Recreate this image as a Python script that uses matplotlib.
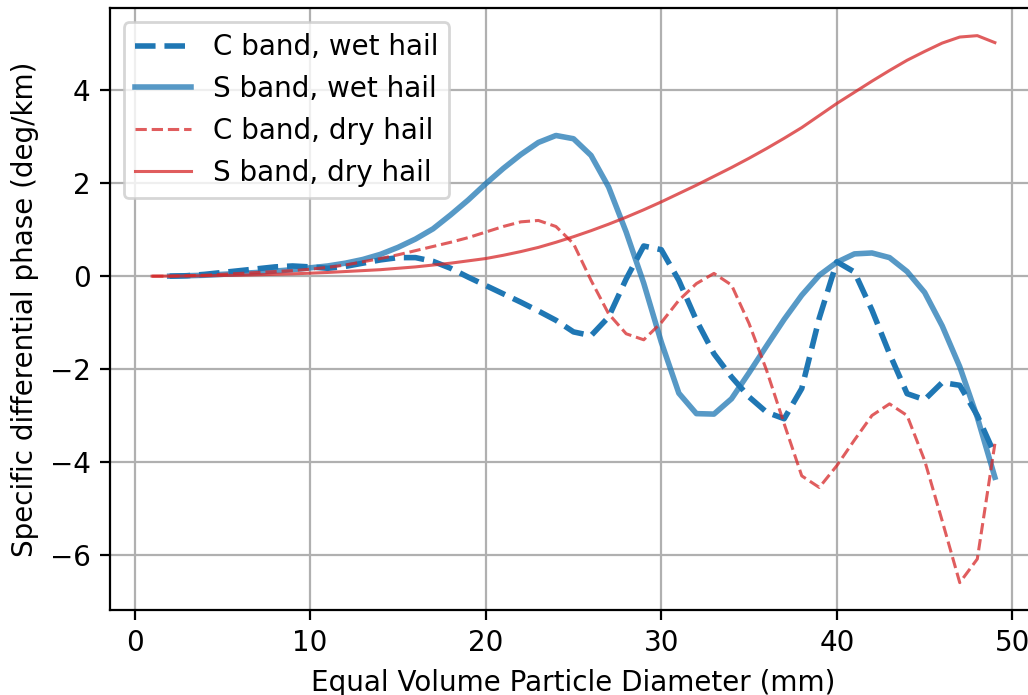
import numpy as np
import matplotlib
matplotlib.use("Agg")
import matplotlib.pyplot as plt

# Equal volume particle diameters (mm)
diam_dry = list(range(1, 50))
diam_wet = list(range(2, 50))

# Specific differential phase (deg/km)
kdp_c_wet = [0.0, 0.01, 0.04, 0.08, 0.12, 0.16, 0.2, 0.22, 0.2, 0.17, 0.21, 0.28, 0.35,
             0.4, 0.4, 0.32, 0.17, -0.02, -0.2, -0.38, -0.56, -0.75, -0.95, -1.2, -1.28,
             -0.88, -0.06, 0.65, 0.57, -0.09, -0.95, -1.67, -2.17, -2.6, -2.93, -3.07,
             -2.42, -0.9, 0.31, 0.09, -0.73, -1.67, -2.53, -2.66, -2.29, -2.35, -3.0, -3.84]
kdp_s_wet = [0.0, 0.01, 0.02, 0.04, 0.06, 0.08, 0.11, 0.14, 0.18, 0.22, 0.28, 0.36, 0.47,
             0.62, 0.8, 1.02, 1.32, 1.64, 1.99, 2.32, 2.62, 2.88, 3.03, 2.96, 2.6, 1.92,
             0.95, -0.15, -1.42, -2.52, -2.96, -2.97, -2.64, -2.08, -1.5, -0.93, -0.41,
             0.02, 0.3, 0.48, 0.5, 0.4, 0.1, -0.35, -1.07, -1.95, -3.04, -4.33]
kdp_c_dry = [0.0, 0.0, 0.01, 0.02, 0.04, 0.06, 0.08, 0.1, 0.12, 0.15, 0.19, 0.24, 0.31,
             0.38, 0.46, 0.55, 0.64, 0.73, 0.83, 0.95, 1.07, 1.17, 1.2, 1.07, 0.7, -0.09,
             -0.81, -1.24, -1.37, -1.0, -0.52, -0.16, 0.06, -0.19, -1.02, -2.03, -3.18,
             -4.3, -4.55, -4.08, -3.53, -3.0, -2.75, -3.0, -3.97, -5.27, -6.6, -6.09, -3.61]
kdp_s_dry = [0.0, 0.002, 0.005, 0.01, 0.015, 0.02, 0.03, 0.04, 0.05, 0.065, 0.08, 0.1,
             0.12, 0.14, 0.17, 0.2, 0.24, 0.28, 0.33, 0.38, 0.45, 0.53, 0.62, 0.73, 0.85,
             0.98, 1.12, 1.27, 1.43, 1.6, 1.78, 1.96, 2.15, 2.34, 2.54, 2.75, 2.97, 3.2,
             3.46, 3.72, 3.96, 4.2, 4.43, 4.65, 4.84, 5.02, 5.15, 5.18, 5.03]

plt.rcParams['font.family'] = ['DejaVu Sans']
plt.rcParams['font.size'] = 10

fig = plt.figure(figsize=(5.14, 3.475), dpi=200)
ax = fig.add_axes([110 / 1028, 85 / 695, 927 / 1028, 601.7 / 695])

ax.plot(diam_wet, kdp_c_wet, color='tab:blue', ls='--', lw=2.0, label='C band, wet hail')
ax.plot(diam_wet, kdp_s_wet, color='tab:blue', alpha=0.75, lw=2.0, label='S band, wet hail')
ax.plot(diam_dry, kdp_c_dry, color='tab:red', alpha=0.75, ls='--', lw=1.1, label='C band, dry hail')
ax.plot(diam_dry, kdp_s_dry, color='tab:red', alpha=0.75, lw=1.1, label='S band, dry hail')

ax.grid(True)
ax.set_xlabel('Equal Volume Particle Diameter (mm)')
ax.set_ylabel('Specific differential phase (deg/km)')
ax.legend(loc='upper left')

fig.savefig('out.png', dpi=200)
